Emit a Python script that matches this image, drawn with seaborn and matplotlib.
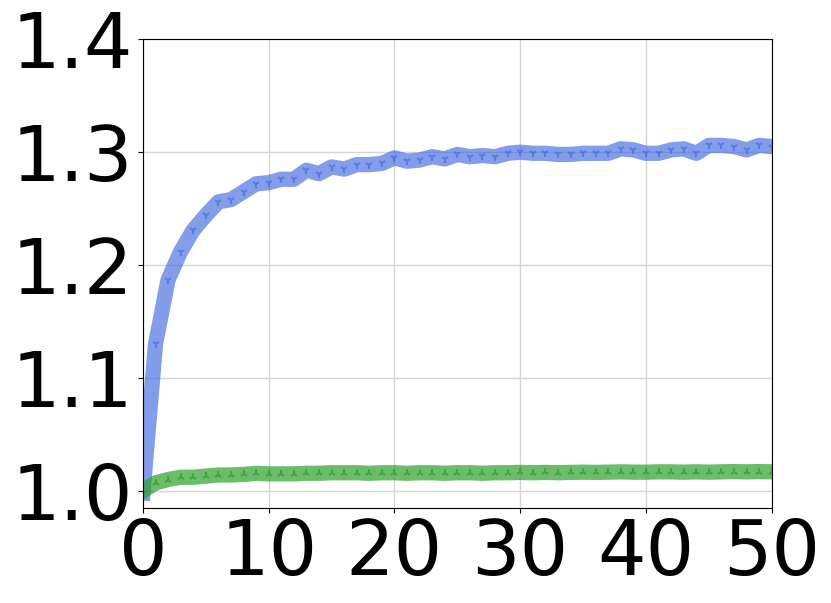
import numpy as np
import pandas as pd
import matplotlib
matplotlib.use('Agg')
import matplotlib.pyplot as plt
import seaborn as sns

# values
steps = list(range(51))
blue_vals = [0.998, 1.130, 1.187, 1.212, 1.231, 1.244, 1.256, 1.258, 1.265, 1.272,
             1.273, 1.276, 1.276, 1.284, 1.281, 1.287, 1.285, 1.289, 1.289, 1.290,
             1.295, 1.292, 1.293, 1.296, 1.294, 1.298, 1.296, 1.297, 1.296, 1.299,
             1.300, 1.299, 1.299, 1.298, 1.298, 1.299, 1.299, 1.299, 1.303, 1.302,
             1.299, 1.299, 1.302, 1.303, 1.299, 1.306, 1.306, 1.305, 1.302, 1.306,
             1.305]
green_vals = [1.000, 1.007, 1.010, 1.012, 1.012, 1.013, 1.014, 1.014, 1.0145, 1.0155,
              1.015, 1.015, 1.015, 1.0155, 1.0155, 1.016, 1.016, 1.016, 1.0155, 1.016,
              1.016, 1.0155, 1.016, 1.016, 1.0155, 1.016, 1.016, 1.0155, 1.016, 1.016,
              1.0163, 1.016, 1.0163, 1.016, 1.0163, 1.0165, 1.0163, 1.0165, 1.0168, 1.0165,
              1.0165, 1.0168, 1.0168, 1.0165, 1.0168, 1.0165, 1.0168, 1.017, 1.0168, 1.017,
              1.0168]
x_ticks = [0, 10, 20, 30, 40, 50]
y_ticks = [1.0, 1.1, 1.2, 1.3, 1.4]

df = pd.DataFrame({'step': steps, 'blue': blue_vals, 'green': green_vals})

fig, ax = plt.subplots(figsize=(8.31, 6.03), dpi=100)
fig.subplots_adjust(left=0.172, right=0.9287, top=0.9348, bottom=0.158)

sns.lineplot(data=df, x='step', y='blue', ax=ax, color='royalblue', alpha=0.65,
             linewidth=11, marker='1', markersize=6, markeredgewidth=1.5,
             markeredgecolor='royalblue')
sns.lineplot(data=df, x='step', y='green', ax=ax, color='tab:green', alpha=0.7,
             linewidth=11, marker='2', markersize=6, markeredgewidth=1.5,
             markeredgecolor='tab:green')

ax.set_xlim(0, 50)
ax.set_ylim(0.985, 1.4)
ax.set_xticks(x_ticks)
ax.set_yticks(y_ticks)
ax.set_yticklabels([f'{v:.1f}' for v in y_ticks])
ax.tick_params(labelsize=55)
ax.grid(True, color='#d5d5d5', linewidth=1)
ax.set_axisbelow(True)
ax.set_xlabel('')
ax.set_ylabel('')

plt.savefig('out.png', dpi=100)
